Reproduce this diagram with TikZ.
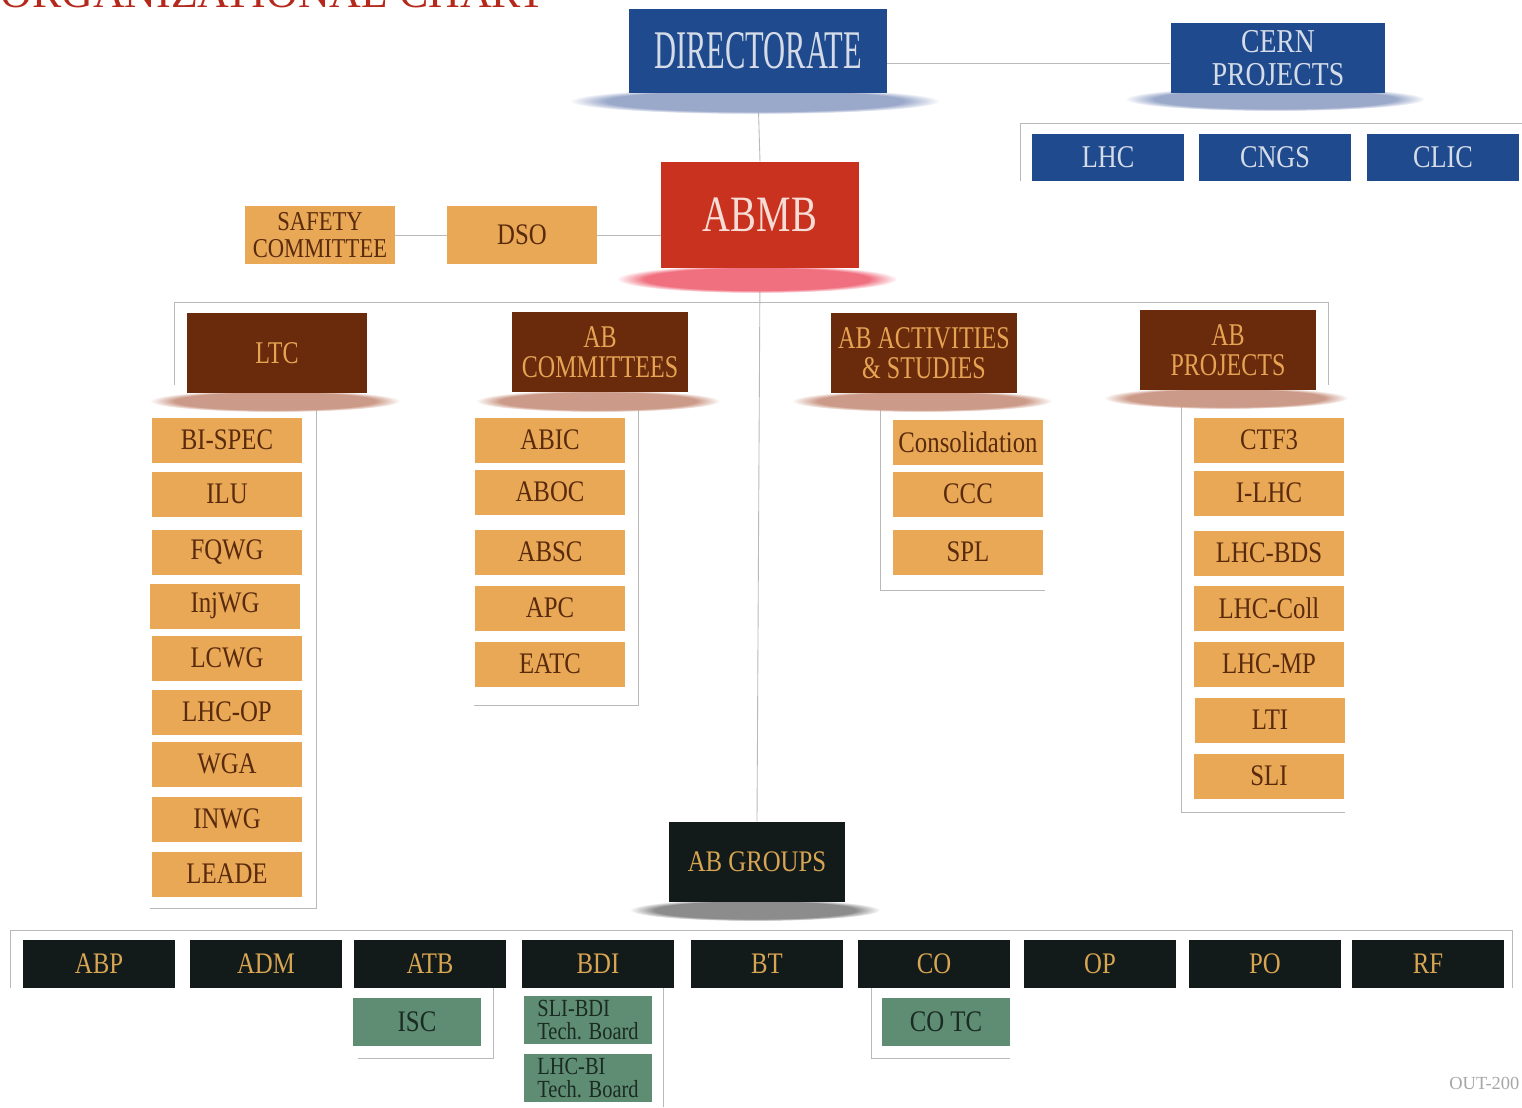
\documentclass[tikz,border=0pt]{standalone}
\usepackage{fontspec}
\setmainfont{Liberation Serif}
\newfontfamily\narrowfont[FakeStretch=0.56]{Liberation Serif}
\newfontfamily\midfont[FakeStretch=0.76]{Liberation Serif}
\newfontfamily\itemfont[FakeStretch=0.83]{Liberation Serif}
\usetikzlibrary{fadings}

\definecolor{dirblue}{HTML}{1F4B8E}
\definecolor{bluetext}{HTML}{D5DCE8}
\definecolor{abred}{HTML}{C8321F}
\definecolor{abtext}{HTML}{F6DCD4}
\definecolor{headbrown}{HTML}{6A2A0C}
\definecolor{headtext}{HTML}{E6A453}
\definecolor{itemorange}{HTML}{E8A856}
\definecolor{itemtext}{HTML}{5A2A0D}
\definecolor{grpblack}{HTML}{121A1A}
\definecolor{grptext}{HTML}{D8A552}
\definecolor{subgreen}{HTML}{5E8D74}
\definecolor{subtext}{HTML}{1B2A22}
\definecolor{titlered}{HTML}{B5281C}
\definecolor{blueshade}{HTML}{9AA8CA}
\definecolor{redshade}{HTML}{F07080}
\definecolor{brownshade}{HTML}{CC9A88}
\definecolor{grayshade}{HTML}{8C8C8C}

\pgfdeclarelayer{background}
\pgfsetlayers{background,main}

\tikzset{
  link/.style={gray!55, line width=0.5pt},
  box/.style={rectangle, inner sep=0pt, align=center},
  bluebox/.style={box, fill=dirblue, text=bluetext},
  cproj/.style={bluebox, minimum width=3.04cm, minimum height=0.94cm, font=\itemfont\fontsize{18}{18}\selectfont},
  head/.style={box, fill=headbrown, text=headtext, minimum width=3.6cm, minimum height=1.6cm, font=\midfont\fontsize{18}{17}\selectfont},
  item/.style={box, fill=itemorange, text=itemtext, minimum width=3.0cm, minimum height=0.9cm, font=\itemfont\fontsize{17}{17}\selectfont},
  grp/.style={box, fill=grpblack, text=grptext, minimum width=3.06cm, minimum height=0.96cm, font=\itemfont\fontsize{17}{17}\selectfont},
  sub/.style={box, fill=subgreen, text=subtext, minimum width=2.56cm, minimum height=0.96cm, font=\itemfont\fontsize{17}{17}\selectfont},
  shade/.style={fill=#1, path fading=circle with fuzzy edge 20 percent},
}

\begin{document}
\begin{tikzpicture}[x=0.02cm, y=-0.02cm]
 \useasboundingbox (0,0) rectangle (1522,1107);
 \clip (0,0) rectangle (1522,1107);
 % title and note
 \node[anchor=base west, inner sep=0pt, text=titlered, font=\fontsize{25}{25}\selectfont] (title) at (0,7) {ORGANIZATIONAL CHART};
 \node[anchor=base west, inner sep=0pt, text=gray!70, font=\fontsize{10.5}{10.5}\selectfont] (note) at (1449,1089) {OUT-200};

 % top
 \node[bluebox, minimum width=5.16cm, minimum height=1.68cm, font=\narrowfont\fontsize{31}{31}\selectfont] (dir) at (758,51) {DIRECTORATE};
 \node[bluebox, minimum width=4.3cm, minimum height=1.4cm, font=\itemfont\fontsize{19}{19}\selectfont] (cern) at (1278,58) {CERN\\PROJECTS};
 \node[cproj] (lhc) at (1108,157) {LHC};
 \node[cproj] (cngs) at (1275,157) {CNGS};
 \node[cproj] (clic) at (1443,157) {CLIC};
 \node[box, fill=abred, text=abtext, minimum width=3.96cm, minimum height=2.12cm, font=\midfont\fontsize{29}{29}\selectfont] (abmb) at (760,215) {ABMB};
 \node[item, minimum height=1.16cm, font=\itemfont\fontsize{15.5}{15}\selectfont] (safety) at (320,235) {SAFETY\\COMMITTEE};
 \node[item, minimum height=1.16cm] (dso) at (522,235) {DSO};

 % heads
 \node[head] (ltc) at (277,353) {LTC};
 \node[head, minimum width=3.52cm] (abcom) at (600,352) {AB\\COMMITTEES};
 \node[head, minimum width=3.72cm] (abact) at (924,353) {AB ACTIVITIES\\\& STUDIES};
 \node[head, minimum width=3.52cm] (abproj) at (1228,350) {AB\\PROJECTS};

 % LTC
 \node[item] (bispec) at (227,440) {BI-SPEC};
 \node[item] (ilu) at (227,494) {ILU};
 \node[item] (fqwg) at (227,552) {FQWG};
 \node[item] (injwg) at (225,606) {InjWG};
 \node[item] (lcwg) at (227,658) {LCWG};
 \node[item] (lhcop) at (227,712) {LHC-OP};
 \node[item] (wga) at (227,764) {WGA};
 \node[item] (inwg) at (227,819) {INWG};
 \node[item] (leade) at (227,874) {LEADE};

 % AB committees
 \node[item] (abic) at (550,440) {ABIC};
 \node[item] (aboc) at (550,492) {ABOC};
 \node[item] (absc) at (550,552) {ABSC};
 \node[item] (apc) at (550,608) {APC};
 \node[item] (eatc) at (550,664) {EATC};

 % AB activities
 \node[item] (consol) at (968,442) {Consolidation};
 \node[item] (ccc) at (968,494) {CCC};
 \node[item] (spl) at (968,552) {SPL};

 % AB projects
 \node[item] (ctf) at (1269,440) {CTF3};
 \node[item] (ilhc) at (1269,493) {I-LHC};
 \node[item] (lhcbds) at (1269,553) {LHC-BDS};
 \node[item] (lhccoll) at (1269,608) {LHC-Coll};
 \node[item] (lhcmp) at (1269,664) {LHC-MP};
 \node[item] (lti) at (1270,720) {LTI};
 \node[item] (sli) at (1269,776) {SLI};

 % groups
 \node[box, fill=grpblack, text=grptext, minimum width=3.52cm, minimum height=1.6cm, font=\itemfont\fontsize{17}{17}\selectfont] (abgroups) at (757,862) {AB GROUPS};
 \node[grp] (abp) at (99,964) {ABP};
 \node[grp] (adm) at (266,964) {ADM};
 \node[grp] (atb) at (430,964) {ATB};
 \node[grp] (bdi) at (598,964) {BDI};
 \node[grp] (bt) at (767,964) {BT};
 \node[grp] (co) at (934,964) {CO};
 \node[grp] (op) at (1100,964) {OP};
 \node[grp] (po) at (1265,964) {PO};
 \node[grp] (rf) at (1428,964) {RF};
 \node[sub] (isc) at (417,1022) {ISC};
 \node[sub, align=left, font=\itemfont\fontsize{14}{13.5}\selectfont] (slibdi) at (588,1020) {SLI-BDI\\Tech. Board};
 \node[sub, align=left, font=\itemfont\fontsize{14}{13.5}\selectfont] (lhcbi) at (588,1078) {LHC-BI\\Tech. Board};
 \node[sub] (cotc) at (946,1022) {CO TC};

 \begin{pgfonlayer}{background}
 % connectors
 \draw[link] ([yshift=-0.1cm]cern.west) -- ([yshift=-0.1cm]cern.west -| dir.east);
 \draw[link] (dir.south) -- (abmb.north);
 \draw[link] (abmb.west |- dso.east) -- (dso.east);
 \draw[link] (dso.west) -- (safety.east);
 \coordinate (cp1) at (1020,181);
 \coordinate (cp2) at (1020,123);
 \coordinate (cp3) at (1522,123);
 \draw[link] (cp1) -- (cp2) -- (cp3);
 \coordinate (t1) at (174,385);
 \coordinate (t2) at (174,302);
 \coordinate (t3) at (1328,302);
 \coordinate (t4) at (1328,385);
 \draw[link] (t1) -- (t2) -- (t3) -- (t4);
 \draw[link] (abmb.south) -- (abgroups.north);
 \coordinate (l1) at (316,410);
 \coordinate (l2) at (316,908);
 \coordinate (l3) at (150,908);
 \draw[link] (l1) -- (l2) -- (l3);
 \coordinate (c1) at (638,410);
 \coordinate (c2) at (638,705);
 \coordinate (c3) at (474,705);
 \draw[link] (c1) -- (c2) -- (c3);
 \coordinate (a1) at (880,400);
 \coordinate (a2) at (880,590);
 \coordinate (a3) at (1045,590);
 \draw[link] (a1) -- (a2) -- (a3);
 \coordinate (p1) at (1181,400);
 \coordinate (p2) at (1181,812);
 \coordinate (p3) at (1345,812);
 \draw[link] (p1) -- (p2) -- (p3);
 \coordinate (g1) at (10,988);
 \coordinate (g2) at (10,930);
 \coordinate (g3) at (1512,930);
 \coordinate (g4) at (1512,988);
 \draw[link] (g1) -- (g2) -- (g3) -- (g4);
 \coordinate (i1) at (493,988);
 \coordinate (i2) at (493,1058);
 \coordinate (i3) at (358,1058);
 \draw[link] (i1) -- (i2) -- (i3);
 \coordinate (b1) at (663,988);
 \coordinate (b2) at (663,1107);
 \draw[link] (b1) -- (b2);
 \coordinate (o1) at (871,988);
 \coordinate (o2) at (871,1058);
 \coordinate (o3) at (1010,1058);
 \draw[link] (o1) -- (o2) -- (o3);
 % shadows
 \fill[shade=blueshade] (755,101) ellipse (185 and 13);
 \fill[shade=blueshade] (1275,99) ellipse (150 and 12);
 \fill[shade=redshade] (757,279) ellipse (140 and 14);
 \fill[shade=brownshade] (275,401) ellipse (125 and 11);
 \fill[shade=brownshade] (598,401) ellipse (122 and 11);
 \fill[shade=brownshade] (922,401) ellipse (130 and 11);
 \fill[shade=brownshade] (1226,398) ellipse (122 and 11);
 \fill[shade=grayshade] (755,910) ellipse (125 and 11);
 \end{pgfonlayer}
\end{tikzpicture}
\end{document}
